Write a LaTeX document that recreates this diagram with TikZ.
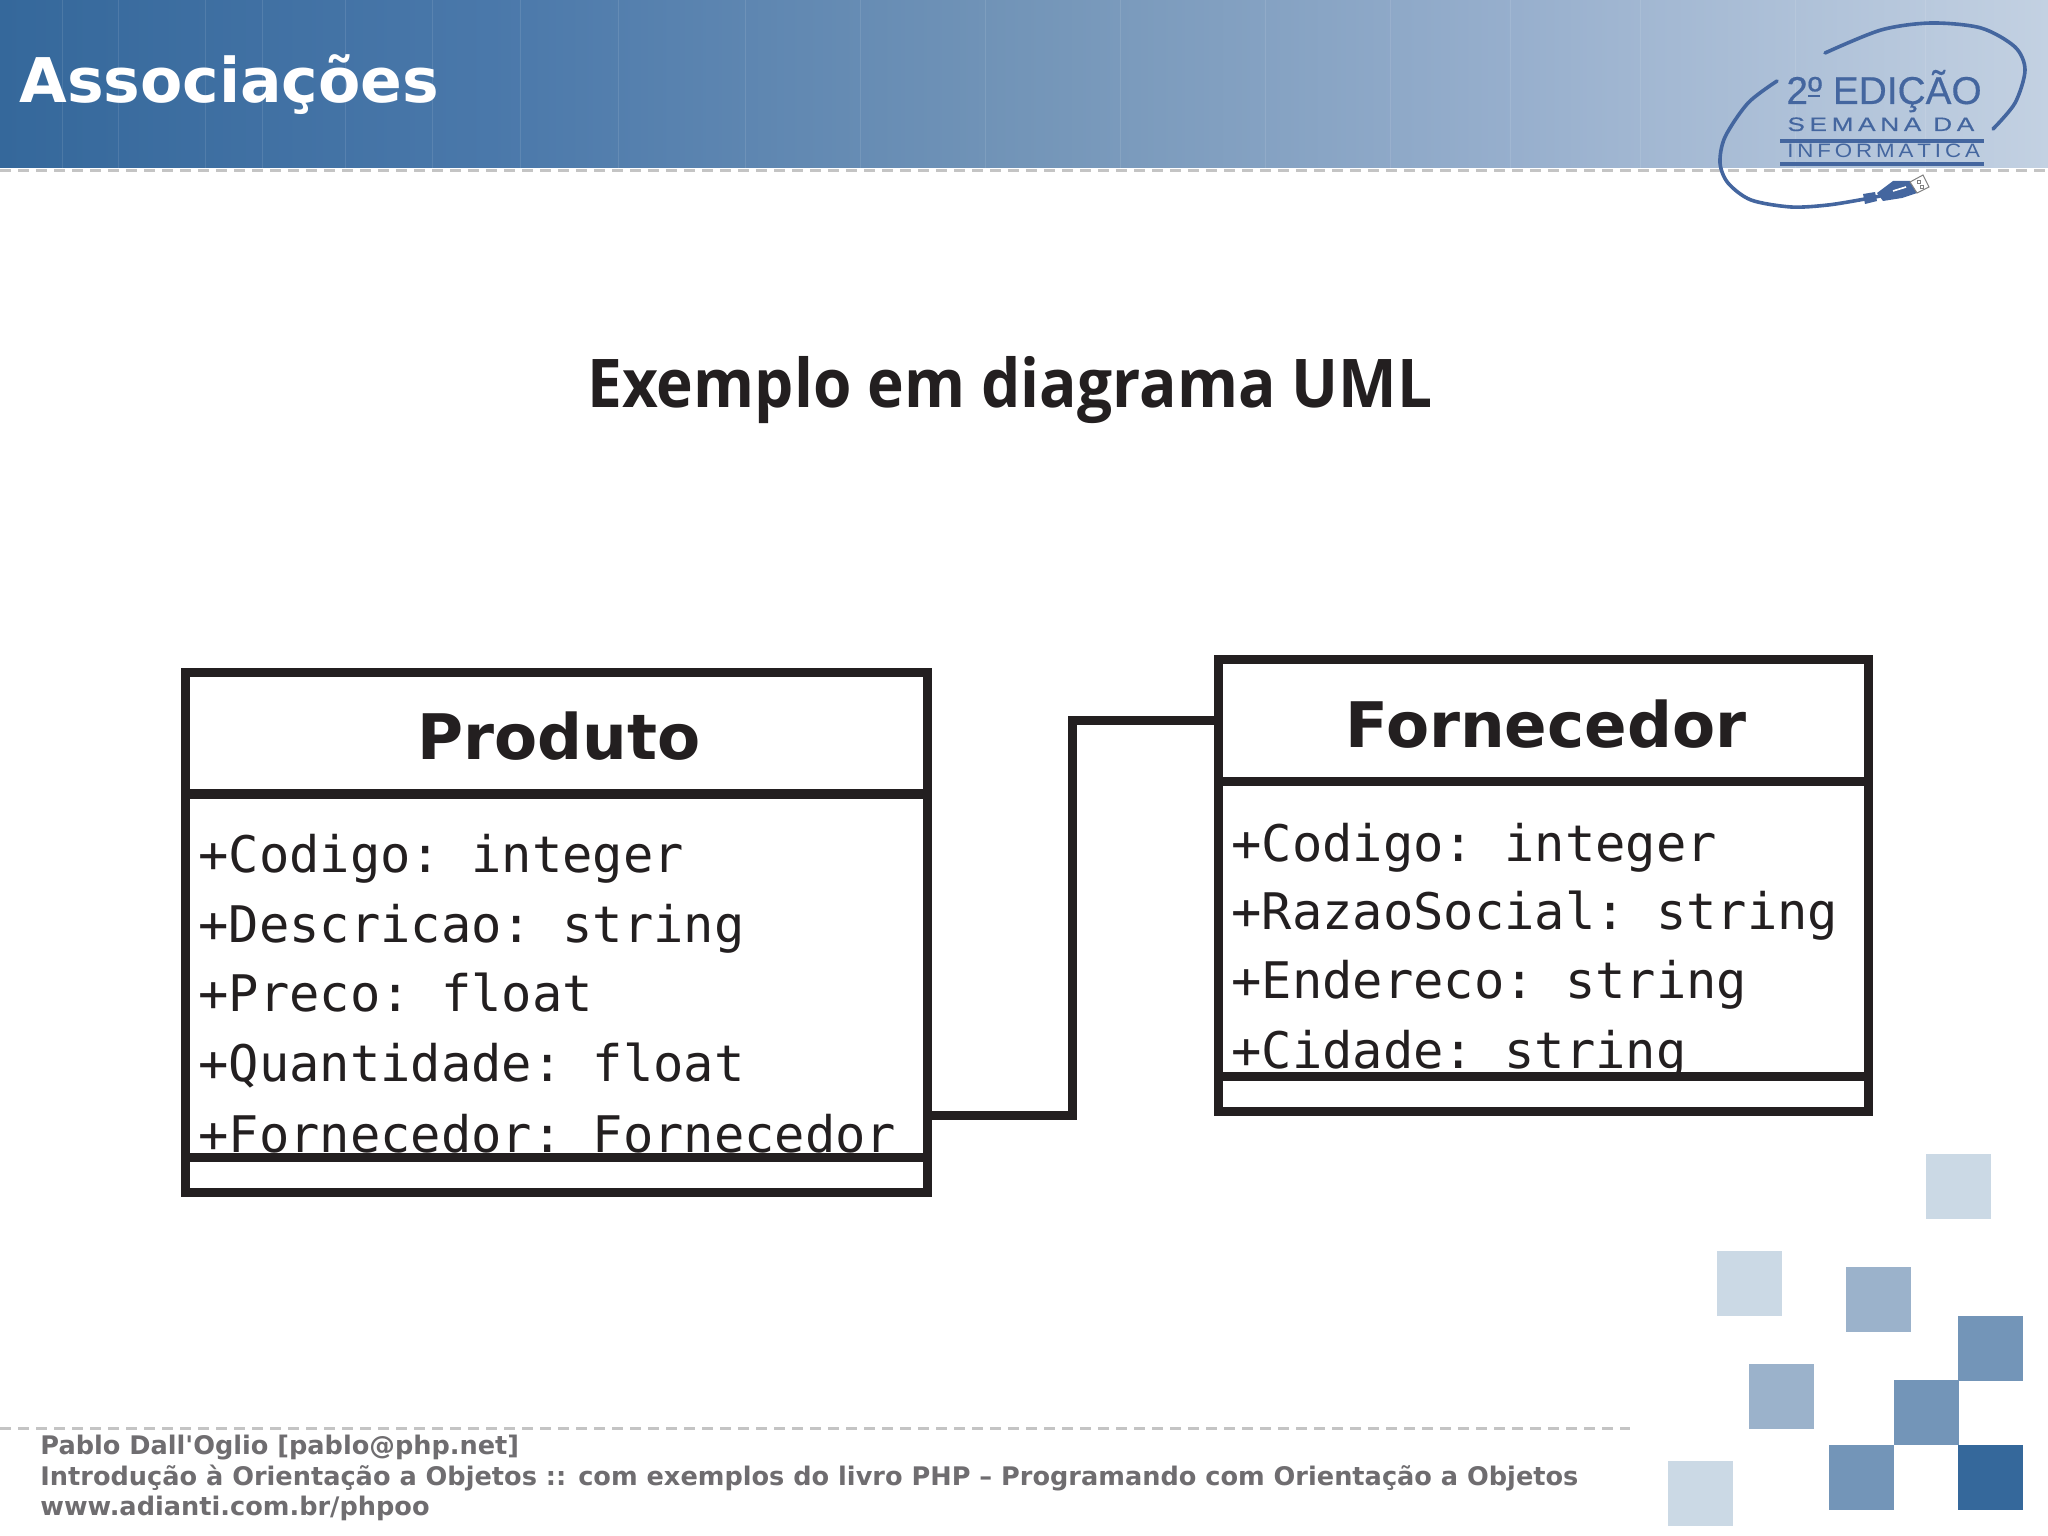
\documentclass[tikz,border=0pt]{standalone}
\usepackage{fontspec}
\setmainfont{DejaVu Sans}
\setmonofont{DejaVu Sans Mono}
\newfontfamily\headfont[FakeStretch=0.925]{Open Sans}
\newfontfamily\logofont[FakeBold=0.4]{Liberation Sans}
\newfontfamily\logowide[FakeStretch=1.35,FakeBold=0.5,LetterSpace=24]{Liberation Sans}
\newfontfamily\logothin[FakeStretch=1.15,LetterSpace=20]{Liberation Sans}
\definecolor{umlink}{HTML}{231F20}
\definecolor{footgray}{HTML}{6F6D70}
\definecolor{dashgray}{HTML}{C4C4C4}
\definecolor{logoblue}{HTML}{44669F}
\definecolor{sqlight}{HTML}{CBD9E5}
\definecolor{sqmid}{HTML}{9BB2CB}
\definecolor{sqstrong}{HTML}{7395B8}
\definecolor{sqdark}{HTML}{35689B}
\definecolor{bannerend}{HTML}{C3D1E2}
\definecolor{bannerleft}{HTML}{4A78AA}
\definecolor{bannerright}{HTML}{97AFCD}
\pgfdeclarehorizontalshading{bannershade}{100bp}{
  color(0bp)=(sqdark);
  color(25bp)=(sqdark);
  color(37bp)=(bannerleft);
  color(50bp)=(sqstrong);
  color(62bp)=(bannerright);
  color(75bp)=(bannerend);
  color(100bp)=(bannerend)}
\tikzset{
  compbox/.style={draw=umlink, line width=4.5pt, rectangle, inner sep=0pt},
  classname/.style={anchor=base, text=umlink, font=\fontsize{31.4}{36}\bfseries},
  attrline/.style={anchor=base west, inner sep=0pt, text=umlink, font=\fontsize{25.2}{30}\ttfamily},
  umlline/.style={draw=umlink, line width=4.5pt},
  footline/.style={anchor=base west, inner sep=0pt, text=footgray, font=\fontsize{12.8}{14}\bfseries},
  dashrule/.style={draw=dashgray, line width=1.5pt, dash pattern=on 5.5pt off 3.5pt},
  logocurve/.style={draw=logoblue, line width=1.8pt, line cap=round},
  logoword/.style={anchor=base west, inner sep=0pt, text=logoblue},
}
\begin{document}
\begin{tikzpicture}[x=0.5pt,y=-0.5pt]
    \useasboundingbox (0,0) rectangle (2048,1535);
    % banner
    \shade[shading=bannershade] (0,0) rectangle (2048,168);
    \foreach \x in {62,118,205,262,345,432,520,618,745,860,985,1120,1265,1390,1510,1640,1795,1925}
        \draw[white, opacity=0.1, line width=0.5pt] (\x,0) -- (\x,168);
    \draw[dashrule] (0,171) -- (2048,171);
    \node[anchor=base west, inner sep=0pt, text=white, font=\fontsize{30.8}{36}\bfseries] (slidetitle) at (19,103) {Associações};

    % logo
    \draw[logocurve] plot[smooth] coordinates {(1825,53) (1881,30) (1931,23) (1981,28) (2015,47) (2025,70) (2015,103) (1993,129)};
    \draw[logocurve] plot[smooth] coordinates {(1777,81) (1748,103) (1725,137) (1720,163) (1728,183) (1751,200) (1791,207) (1828,205) (1865,199) (1880,196)};
    \node[logoword, font=\logofont\fontsize{19.4}{22}\selectfont] (logoedition) at (1786,104) {2º EDIÇÃO};
    \draw[logoblue, line width=1pt] (1808,96) -- (1820,96);
    \node[logoword, font=\logowide\fontsize{9.7}{12}\selectfont] (logoweek) at (1787,131) {SEMANA DA};
    \node[logoword, font=\logothin\fontsize{9.7}{12}\selectfont] (logoinfo) at (1787,158) {INFORMÁTICA};
    \draw[logoblue, line width=2pt] (1780,141) -- (1984,141);
    \draw[logoblue, line width=2pt] (1780,164) -- (1984,164);
    % usb plug
    \fill[logoblue] (1877,193) -- (1893,181) -- (1910,181) -- (1917,193) -- (1902,198) -- (1883,201) -- cycle;
    \fill[logoblue] (1863,194) -- (1875,192) -- (1877,201) -- (1865,204) -- cycle;
    \draw[white, line width=0.8pt] (1893,191) -- (1906,187);
    \draw[gray, fill=white, line width=0.5pt] (1910,182) -- (1923,175) -- (1929,187) -- (1917,193) -- cycle;
    \draw[gray, line width=0.5pt] (1917,181) rectangle (1920,184);
    \draw[gray, line width=0.5pt] (1920,186) rectangle (1923,189);

    % heading
    \node[anchor=base, inner sep=0pt, text=umlink, font=\headfont\fontsize{33.6}{40}\bfseries] (heading) at (1010,407) {Exemplo em diagrama UML};

    % class Produto
    \foreach \n/\y/\txt in {1/872/+Codigo: integer,2/942/+Descricao: string,3/1011/+Preco: float,4/1081/+Quantidade: float,5/1152/+Fornecedor: Fornecedor}
        \node[attrline] (prodline\n) at (198,\y) {\txt};
    \node[compbox, minimum width=371pt, minimum height=61pt] (prodtitle) at (556.5,733) {};
    \node[compbox, minimum width=371pt, minimum height=182pt] (prodattrs) at (556.5,975.5) {};
    \node[compbox, fill=white, minimum width=371pt, minimum height=17.5pt] (prodmethods) at (556.5,1175) {};
    \node[classname] (prodname) at (559,759) {Produto};
    \coordinate (prodport) at (prodattrs.east |- 0,1115);

    % class Fornecedor
    \foreach \n/\y/\txt in {1/861/+Codigo: integer,2/929/+RazaoSocial: string,3/998/+Endereco: string,4/1068/+Cidade: string}
        \node[attrline] (fornline\n) at (1231,\y) {\txt};
    \node[compbox, minimum width=325pt, minimum height=61pt] (forntitle) at (1543,720) {};
    \node[compbox, minimum width=325pt, minimum height=147.5pt] (fornattrs) at (1543,928.5) {};
    \node[compbox, fill=white, minimum width=325pt, minimum height=17.5pt] (fornmethods) at (1543,1093.5) {};
    \node[classname] (fornname) at (1546,747) {Fornecedor};

    \draw[umlline] (prodport) -- ++(140,0) |- (forntitle.west);

    % squares
    \foreach \x/\y/\c in {1926/1154/sqlight,1717/1251/sqlight,1668/1461/sqlight,1846/1267/sqmid,1749/1364/sqmid,1958/1316/sqstrong,1894/1380/sqstrong,1829/1445/sqstrong,1958/1445/sqdark}
        \fill[\c] (\x,\y) rectangle ++(64.7,64.7);

    % footer
    \draw[dashrule] (0,1428) -- (1630,1428);
    \node[footline] (footauthor) at (40,1454) {Pablo Dall\textquotesingle Oglio [pablo@php.net]};
    \node[footline] (footbook) at (40,1485) {Introdução à Orientação a Objetos :: com exemplos do livro PHP – Programando com Orientação a Objetos};
    \node[footline] (footsite) at (40,1515) {www.adianti.com.br/phpoo};
\end{tikzpicture}
\end{document}
